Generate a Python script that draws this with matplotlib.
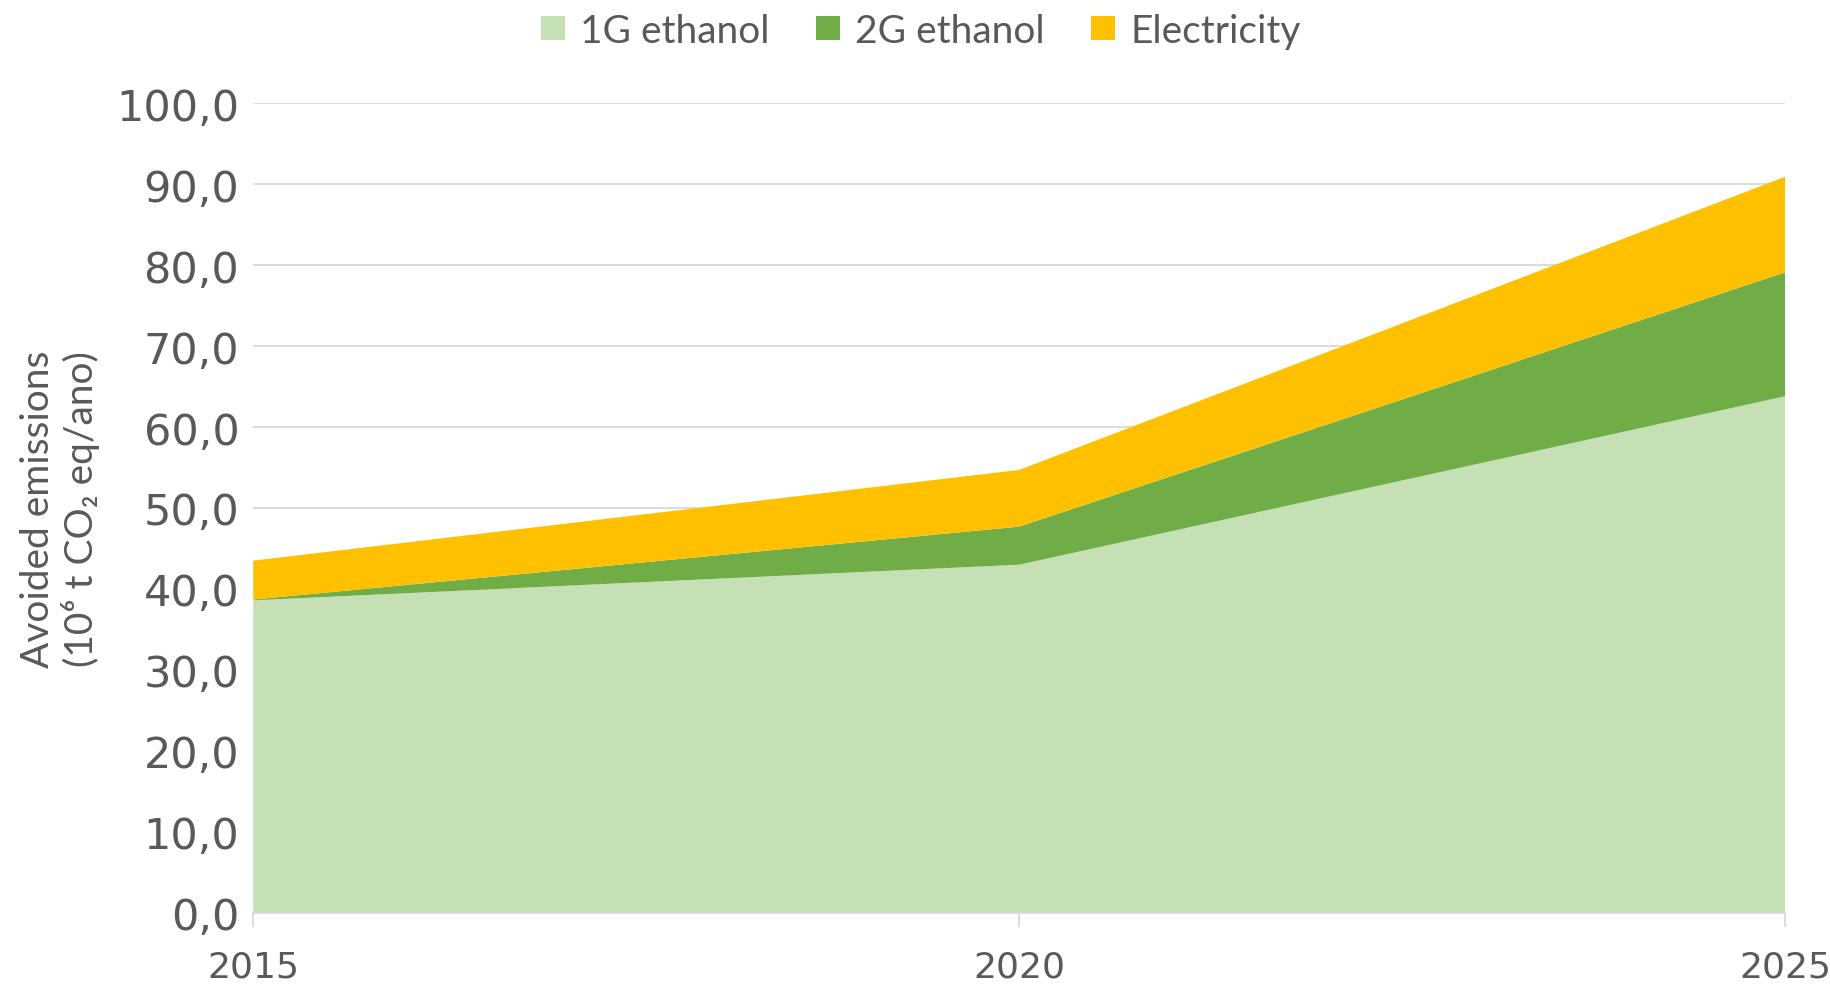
import matplotlib.pyplot as plt

# Emissões evitadas por fonte
anos = [2015, 2020, 2025]
etanol_1g = [38.6, 43.0, 63.8]
etanol_2g = [0.1, 4.7, 15.3]
eletricidade = [4.8, 7.0, 11.8]

rotulos = ['1G ethanol', '2G ethanol', 'Electricity']
cores = ['#c5e0b4', '#70ad47', '#ffc000']
cinza = '#595959'

fig = plt.figure(figsize=(18.31, 9.87), dpi=100)
ax = fig.add_axes([0.1383, 0.074, 0.8367, 0.8206])

ax.stackplot(anos, etanol_1g, etanol_2g, eletricidade,
             colors=cores, labels=rotulos, zorder=2)

ax.set_xlim(2015, 2025)
ax.set_ylim(0, 100)
ax.set_yticks(range(0, 101, 10))
ax.set_yticklabels([f'{v},0' for v in range(0, 101, 10)],
                   fontsize=31, color=cinza, family='DejaVu Sans')
ax.set_xticks(anos)
ax.set_xticklabels([str(a) for a in anos], fontsize=26, color=cinza,
                   family='DejaVu Sans')

ax.grid(axis='y', color='#d9d9d9', linewidth=1.3, zorder=1)
for lado in ['top', 'right', 'left']:
    ax.spines[lado].set_visible(False)
ax.spines['bottom'].set_color('#d9d9d9')
ax.spines['bottom'].set_linewidth(1.3)
ax.tick_params(axis='y', length=0, pad=10)
ax.tick_params(axis='x', length=10, color='#d9d9d9', width=1.3, pad=16)

ax.set_ylabel('Avoided emissions\n(10⁶ t CO₂ eq/ano)', fontsize=28,
              color=cinza, family='Lato', labelpad=12, linespacing=1.15)

fig.legend(loc='center', bbox_to_anchor=(0.503, 0.968), ncol=3,
           frameon=False, handlelength=0.6, handleheight=0.6,
           columnspacing=1.2, handletextpad=0.4,
           prop={'family': 'Lato', 'size': 28}, labelcolor=cinza)

fig.savefig('out.png', dpi=100)
